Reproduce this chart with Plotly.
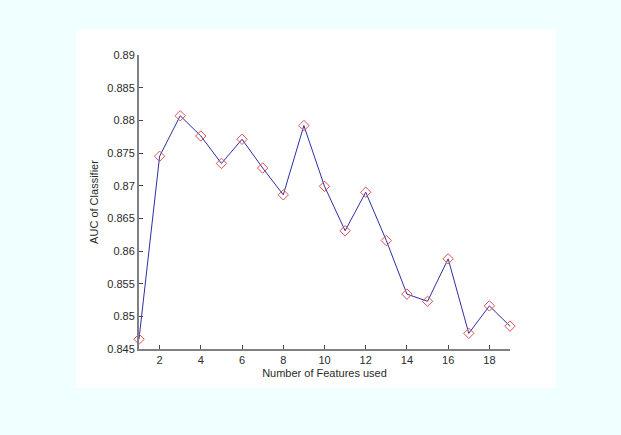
import plotly.graph_objects as go

features = list(range(1, 20))
auc = [0.8465, 0.8745, 0.8807, 0.8776, 0.8734, 0.8771, 0.8727, 0.8686, 0.8792,
       0.8699, 0.8631, 0.8690, 0.8616, 0.8534, 0.8523, 0.8588, 0.8474, 0.8516, 0.8485]
x_ticks = [2, 4, 6, 8, 10, 12, 14, 16, 18]
y_ticks = [0.845, 0.85, 0.855, 0.86, 0.865, 0.87, 0.875, 0.88, 0.885, 0.89]
y_tick_text = ["0.845", "0.85", "0.855", "0.86", "0.865", "0.87", "0.875", "0.88", "0.885", "0.89"]

W, H = 621, 435
L, R, T, B = 139, 111, 55, 86
pw, ph = W - L - R, H - T - B

def px_to_paper_x(px):
    return (px - L) / pw

def px_to_paper_y(py):
    return (H - B - py) / ph

fig = go.Figure()
fig.add_trace(go.Scatter(
    x=features, y=auc, mode="lines+markers",
    line=dict(color="#2e2ea4", width=1),
    marker=dict(symbol="diamond-open", size=8, color="#e05050", line=dict(width=1, color="#e05050")),
    showlegend=False, cliponaxis=False,
))

fig.add_shape(type="rect", xref="paper", yref="paper", layer="below",
              x0=px_to_paper_x(76), x1=px_to_paper_x(556),
              y0=px_to_paper_y(388), y1=px_to_paper_y(29),
              fillcolor="white", line=dict(width=0))

axis_font = dict(family="Liberation Sans, Arial, sans-serif", size=11, color="#2a2a2a")
fig.update_layout(
    width=W, height=H,
    margin=dict(l=L, r=R, t=T, b=B),
    paper_bgcolor="#f0ffff",
    plot_bgcolor="white",
    font=axis_font,
    xaxis=dict(range=[1, 19], tickvals=x_ticks, ticks="inside", ticklen=4, tickcolor="#444",
               showline=True, linecolor="#808080", linewidth=2, showgrid=False, zeroline=False,
               title=dict(text="Number of Features used", font=axis_font, standoff=4),
               tickfont=axis_font),
    yaxis=dict(range=[0.845, 0.89], tickvals=y_ticks, ticktext=y_tick_text, ticks="inside",
               ticklen=4, tickcolor="#444",
               showline=True, linecolor="#808080", linewidth=2, showgrid=False, zeroline=False,
               title=dict(text="AUC of Classifier", font=axis_font, standoff=6),
               tickfont=axis_font),
)

fig.write_html("out.html", config={"displayModeBar": False},
               post_script="document.body.style.margin='0';document.body.style.overflow='hidden';")
